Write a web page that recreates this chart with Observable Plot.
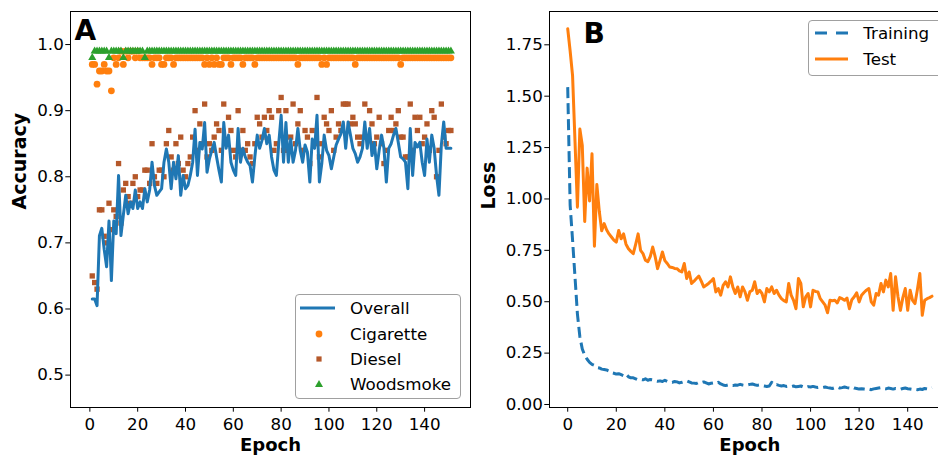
<!DOCTYPE html>
<html><head><meta charset="utf-8">
<script src="https://cdn.jsdelivr.net/npm/d3@7"></script>
<script src="https://cdn.jsdelivr.net/npm/@observablehq/plot@0.6"></script>
<style>
html,body{margin:0;padding:0;background:#fff;}
#wrap{position:relative;width:938px;height:455px;overflow:hidden;background:#fff;font-family:"DejaVu Sans",sans-serif;color:#000;}
#wrap > svg{position:absolute;top:0;}
.lgbox{position:absolute;border:1px solid #a0a0a0;border-radius:4px;background:rgba(255,255,255,0.8);box-sizing:border-box;}
.lgsw{position:absolute;}
.lgtx{position:absolute;font-size:16.7px;line-height:20px;height:20px;white-space:nowrap;}
</style>
</head><body>
<div id="wrap"></div>
<script>
// ---------- Panel A data (x = epoch 1..151) ----------
const overall = [
0.615,0.615,0.605,0.711,0.722,0.69,0.664,0.733,0.643,0.733,
0.714,0.802,0.711,0.742,0.772,0.744,0.762,0.752,0.78,0.752,
0.762,0.752,0.782,0.762,0.78,0.822,0.787,0.772,0.777,0.782,
0.822,0.842,0.822,0.782,0.822,0.797,0.832,0.772,0.802,0.782,
0.787,0.802,0.822,0.872,0.802,0.852,0.842,0.882,0.807,0.827,
0.84,0.852,0.83,0.81,0.792,0.882,0.843,0.863,0.822,0.81,
0.802,0.873,0.822,0.843,0.83,0.822,0.817,0.792,0.83,0.863,
0.843,0.855,0.873,0.85,0.863,0.83,0.81,0.802,0.85,0.893,
0.822,0.882,0.822,0.857,0.822,0.84,0.873,0.84,0.822,0.848,
0.837,0.792,0.857,0.843,0.893,0.792,0.82,0.863,0.84,0.832,
0.812,0.83,0.848,0.857,0.865,0.883,0.843,0.883,0.863,0.843,
0.835,0.822,0.83,0.843,0.883,0.843,0.873,0.832,0.852,0.812,
0.84,0.863,0.843,0.792,0.843,0.85,0.863,0.873,0.852,0.83,
0.827,0.822,0.782,0.873,0.802,0.852,0.845,0.852,0.822,0.802,
0.857,0.822,0.863,0.843,0.802,0.772,0.848,0.883,0.843,0.843,
0.843];
const diesel = [
0.65,0.64,0.63,0.75,0.75,0.71,0.70,0.76,0.72,0.75,
0.74,0.82,0.73,0.78,0.79,0.77,0.76,0.79,0.80,0.77,
0.78,0.78,0.81,0.81,0.79,0.85,0.80,0.79,0.81,0.81,
0.80,0.85,0.87,0.83,0.81,0.85,0.82,0.86,0.81,0.80,
0.82,0.83,0.86,0.90,0.84,0.88,0.85,0.91,0.83,0.85,
0.84,0.86,0.88,0.87,0.84,0.91,0.85,0.89,0.87,0.84,
0.83,0.90,0.84,0.87,0.84,0.85,0.83,0.82,0.85,0.89,
0.88,0.86,0.89,0.87,0.90,0.89,0.84,0.85,0.90,0.92,
0.84,0.90,0.84,0.86,0.91,0.85,0.88,0.90,0.84,0.87,
0.86,0.82,0.87,0.85,0.92,0.83,0.85,0.89,0.88,0.87,
0.90,0.84,0.86,0.88,0.87,0.91,0.91,0.91,0.88,0.89,
0.88,0.86,0.85,0.86,0.91,0.86,0.90,0.88,0.85,0.86,
0.89,0.85,0.82,0.84,0.87,0.89,0.87,0.88,0.90,0.86,
0.86,0.83,0.83,0.91,0.84,0.89,0.87,0.89,0.85,0.86,
0.88,0.84,0.90,0.89,0.80,0.84,0.91,0.86,0.85,0.87,
0.87];
const cigarette = [
0.97,0.97,0.94,0.96,0.96,0.97,0.96,0.96,0.93,0.98,
0.97,0.98,0.99,0.97,0.99,0.98,0.99,0.99,0.98,0.99,
0.98,0.98,0.98,0.98,0.98,0.97,0.98,0.98,0.98,0.97,
0.97,0.98,0.98,0.98,0.97,0.98,0.98,0.98,0.98,0.98,
0.98,0.98,0.98,0.98,0.98,0.98,0.98,0.97,0.98,0.97,
0.98,0.97,0.98,0.97,0.97,0.98,0.98,0.98,0.97,0.98,
0.98,0.98,0.98,0.97,0.98,0.98,0.98,0.98,0.97,0.98,
0.98,0.98,0.98,0.98,0.98,0.98,0.98,0.98,0.98,0.98,
0.98,0.98,0.98,0.98,0.98,0.98,0.97,0.98,0.98,0.98,
0.98,0.98,0.98,0.98,0.98,0.98,0.97,0.98,0.97,0.98,
0.98,0.98,0.98,0.98,0.98,0.98,0.98,0.98,0.98,0.98,
0.97,0.98,0.98,0.98,0.98,0.98,0.98,0.98,0.98,0.98,
0.98,0.98,0.98,0.98,0.98,0.98,0.98,0.98,0.98,0.97,
0.98,0.98,0.98,0.98,0.98,0.98,0.98,0.98,0.98,0.98,
0.98,0.98,0.98,0.98,0.98,0.98,0.98,0.98,0.98,0.98,
0.98];
const woodsmoke = [
0.98,0.99,0.99,0.99,0.99,0.99,0.99,0.98,0.99,0.99,
0.99,0.99,0.99,0.98,0.99,0.99,0.99,0.99,0.99,0.99,
0.99,0.99,0.98,0.99,0.99,0.99,0.99,0.99,0.99,0.99,
0.99,0.99,0.99,0.99,0.99,0.99,0.99,0.99,0.99,0.99,
0.99,0.99,0.99,0.99,0.99,0.99,0.99,0.99,0.99,0.99,
0.99,0.99,0.99,0.99,0.99,0.99,0.99,0.99,0.99,0.99,
0.99,0.99,0.99,0.99,0.99,0.99,0.99,0.99,0.99,0.99,
0.99,0.99,0.99,0.99,0.99,0.99,0.99,0.99,0.99,0.99,
0.99,0.99,0.99,0.99,0.99,0.99,0.99,0.99,0.99,0.99,
0.99,0.99,0.99,0.99,0.99,0.99,0.99,0.99,0.99,0.99,
0.99,0.99,0.99,0.99,0.99,0.99,0.99,0.99,0.99,0.99,
0.99,0.99,0.99,0.99,0.99,0.99,0.99,0.99,0.99,0.99,
0.99,0.99,0.99,0.99,0.99,0.99,0.99,0.99,0.99,0.99,
0.99,0.99,0.99,0.99,0.99,0.99,0.99,0.99,0.99,0.99,
0.99,0.99,0.99,0.99,0.99,0.99,0.99,0.99,0.99,0.99,
0.99];
const epochsA = overall.map((_, i) => i + 1);

// ---------- Panel B data (x = epoch 0..150) ----------
const trainLoss = [
1.544,0.97,0.80,0.62,0.44,0.33,0.27,0.24,0.22,0.205,
0.195,0.19,0.18,0.178,0.172,0.17,0.168,0.163,0.155,0.152,
0.148,0.15,0.145,0.14,0.148,0.135,0.13,0.13,0.125,0.12,
0.122,0.12,0.125,0.118,0.122,0.12,0.115,0.113,0.115,0.112,
0.118,0.112,0.11,0.108,0.112,0.11,0.105,0.108,0.112,0.115,
0.11,0.105,0.104,0.102,0.108,0.106,0.11,0.105,0.10,0.103,
0.105,0.102,0.108,0.10,0.095,0.092,0.095,0.093,0.092,0.095,
0.094,0.098,0.095,0.093,0.095,0.098,0.10,0.096,0.093,0.095,
0.092,0.09,0.088,0.09,0.108,0.095,0.097,0.093,0.09,0.092,
0.088,0.09,0.087,0.09,0.086,0.088,0.09,0.085,0.083,0.087,
0.085,0.088,0.085,0.083,0.085,0.083,0.085,0.082,0.08,0.078,
0.082,0.085,0.08,0.082,0.085,0.082,0.08,0.085,0.08,0.078,
0.075,0.077,0.075,0.073,0.075,0.072,0.076,0.078,0.08,0.082,
0.078,0.076,0.08,0.078,0.075,0.078,0.076,0.074,0.078,0.08,
0.077,0.075,0.073,0.074,0.072,0.075,0.073,0.078,0.076,0.08,
0.082];
const testLoss = [
1.828,1.72,1.60,1.28,0.96,1.34,1.26,0.89,1.15,0.99,
1.22,0.77,1.07,0.94,0.845,0.88,0.85,0.83,0.815,0.80,
0.79,0.847,0.806,0.83,0.78,0.758,0.745,0.734,0.78,0.83,
0.75,0.734,0.702,0.695,0.72,0.766,0.72,0.661,0.70,0.742,
0.70,0.686,0.669,0.667,0.662,0.661,0.65,0.645,0.686,0.613,
0.645,0.589,0.60,0.613,0.625,0.60,0.572,0.58,0.589,0.60,
0.613,0.548,0.564,0.532,0.58,0.597,0.572,0.621,0.572,0.54,
0.572,0.524,0.572,0.548,0.507,0.548,0.556,0.597,0.54,0.556,
0.54,0.499,0.564,0.548,0.572,0.54,0.556,0.532,0.515,0.505,
0.499,0.589,0.532,0.507,0.466,0.613,0.589,0.475,0.524,0.54,
0.475,0.556,0.55,0.548,0.515,0.499,0.483,0.446,0.507,0.505,
0.507,0.494,0.52,0.515,0.507,0.518,0.466,0.51,0.524,0.543,
0.499,0.532,0.545,0.556,0.564,0.499,0.483,0.54,0.532,0.589,
0.548,0.605,0.572,0.637,0.458,0.621,0.524,0.458,0.52,0.564,
0.458,0.556,0.507,0.491,0.56,0.637,0.434,0.507,0.515,0.52,
0.527];
const epochsB = testLoss.map((_, i) => i);

// ---------- Ticks ----------
const epochTicks = [0, 20, 40, 60, 80, 100, 120, 140];
const accTicks = [0.5, 0.6, 0.7, 0.8, 0.9, 1.0];
const lossTicks = [0, 0.25, 0.5, 0.75, 1.0, 1.25, 1.5, 1.75];

// ---------- Build ----------
const BLUE = "#1f77b4", ORANGE = "#ff7f0e", BROWN = "#b5582a", GREEN = "#2ca02c";
const baseStyle = {fontFamily: "'DejaVu Sans', sans-serif", fontSize: "16.7px", color: "black", background: "transparent", overflow: "visible"};

const dataA = epochsA.map((e, i) => ({epoch: e, overall: overall[i], cigarette: cigarette[i], diesel: diesel[i], woodsmoke: woodsmoke[i]}));
const dataB = epochsB.map((e, i) => ({epoch: e, train: trainLoss[i], test: testLoss[i]}));

const plotA = Plot.plot({
  width: 480, height: 455,
  marginLeft: 70, marginRight: 10, marginTop: 11, marginBottom: 48,
  style: baseStyle,
  x: {domain: [-8.1, 159.2]},
  y: {domain: [0.451, 1.050]},
  marks: [
    Plot.dot(dataA, {x: "epoch", y: "cigarette", symbol: "circle", r: 3.4, fill: ORANGE}),
    Plot.dot(dataA, {x: "epoch", y: "diesel", symbol: "square", r: 3.0, fill: BROWN}),
    Plot.dot(dataA, {x: "epoch", y: "woodsmoke", symbol: "triangle", r: 3.0, fill: GREEN}),
    Plot.line(dataA, {x: "epoch", y: "overall", stroke: BLUE, strokeWidth: 3}),
    Plot.frame({stroke: "black", strokeWidth: 1}),
    Plot.axisX(epochTicks, {tickSize: 4.7, tickPadding: 6, label: null}),
    Plot.axisY(accTicks, {tickSize: 4.7, tickPadding: 2, tickFormat: d => d.toFixed(1), label: null}),
    Plot.text(["A"], {text: d => d, frameAnchor: "top-left", dx: 4, dy: 9, lineAnchor: "top", textAnchor: "start", fontSize: 28, fontWeight: "bold"}),
    Plot.text(["Accuracy"], {text: d => d, frameAnchor: "left", rotate: -90, dx: -50.5, fontSize: 19, fontWeight: "bold"}),
    Plot.text(["Epoch"], {text: d => d, frameAnchor: "bottom", dy: 30.5, lineAnchor: "top", fontSize: 18, fontWeight: "bold"})
  ]
});

const plotB = Plot.plot({
  width: 490, height: 455,
  marginLeft: 79, marginRight: 10.3, marginTop: 11, marginBottom: 48,
  style: baseStyle,
  x: {domain: [-7.5, 157.5]},
  y: {domain: [-0.0146, 1.912]},
  marks: [
    Plot.line(dataB, {x: "epoch", y: "train", stroke: BLUE, strokeWidth: 3, strokeDasharray: "11,5", strokeLinecap: "butt"}),
    Plot.line(dataB, {x: "epoch", y: "test", stroke: ORANGE, strokeWidth: 3}),
    Plot.frame({stroke: "black", strokeWidth: 1}),
    Plot.axisX(epochTicks, {tickSize: 4.7, tickPadding: 6, label: null}),
    Plot.axisY(lossTicks, {tickSize: 4.7, tickPadding: 2, tickFormat: d => d.toFixed(2), label: null}),
    Plot.text(["B"], {text: d => d, frameAnchor: "top-left", dx: 34, dy: 12, lineAnchor: "top", textAnchor: "start", fontSize: 28, fontWeight: "bold"}),
    Plot.text(["Loss"], {text: d => d, frameAnchor: "left", rotate: -90, dx: -60.5, fontSize: 19, fontWeight: "bold"}),
    Plot.text(["Epoch"], {text: d => d, frameAnchor: "bottom", dy: 30.5, lineAnchor: "top", fontSize: 18, fontWeight: "bold"})
  ]
});

const wrap = document.getElementById("wrap");
plotA.style.left = "0px";
plotB.style.left = "470px";
wrap.appendChild(plotA);
wrap.appendChild(plotB);

// ---------- Legends (HTML overlays) ----------
function box(left, top, width, height) {
  const d = document.createElement("div");
  d.className = "lgbox";
  Object.assign(d.style, {left: left + "px", top: top + "px", width: width + "px", height: height + "px"});
  wrap.appendChild(d);
}
function item(swatch, swLeft, cy, label, textLeft) {
  const s = document.createElement("div");
  s.className = "lgsw";
  Object.assign(s.style, {left: swLeft + "px", top: (cy - 8) + "px", width: "40px", height: "16px"});
  s.innerHTML = `<svg width="40" height="16" viewBox="0 0 40 16">${swatch}</svg>`;
  wrap.appendChild(s);
  const t = document.createElement("div");
  t.className = "lgtx";
  t.textContent = label;
  Object.assign(t.style, {left: textLeft + "px", top: (cy - 10) + "px"});
  wrap.appendChild(t);
}
box(295, 294, 166, 105);
item(`<line x1="5" x2="42" y1="8" y2="8" stroke="${BLUE}" stroke-width="3"/>`, 295, 307.7, "Overall", 350);
item(`<circle cx="24" cy="8" r="3.4" fill="${ORANGE}"/>`, 295, 334.3, "Cigarette", 350);
item(`<rect x="21.4" y="5.4" width="5.2" height="5.2" fill="${BROWN}"/>`, 295, 359.3, "Diesel", 350);
item(`<polygon points="24,4 28,11 20,11" fill="${GREEN}"/>`, 295, 384, "Woodsmoke", 350);

box(808.3, 20, 160, 56);
item(`<line x1="7" x2="42" y1="8" y2="8" stroke="${BLUE}" stroke-width="3" stroke-dasharray="12,9"/>`, 808, 33.3, "Training", 863.3);
item(`<line x1="7" x2="42" y1="8" y2="8" stroke="${ORANGE}" stroke-width="3"/>`, 808, 59, "Test", 863.3);
</script>
</body></html>
